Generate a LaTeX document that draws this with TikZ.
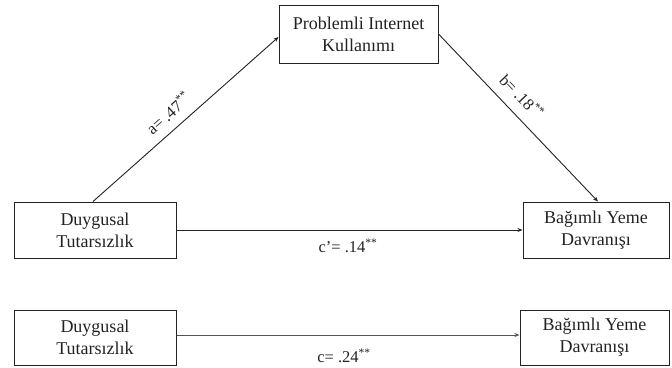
\documentclass[tikz,border=0pt]{standalone}
\usepackage{fontspec}
\setmainfont{Liberation Serif}
\usetikzlibrary{arrows.meta}
\definecolor{ink}{HTML}{222222}
\definecolor{lightink}{HTML}{555555}
\tikzset{
  varbox/.style={draw=ink, line width=1pt, align=center, inner sep=0pt,
    font=\fontsize{18}{22}\selectfont, text=ink},
  path/.style={draw=ink, line width=0.9pt, -{Stealth[length=5pt,width=4pt]}},
  pathlight/.style={draw=lightink, line width=0.7pt, -{Stealth[length=5pt,width=4pt]}},
  coef/.style={font=\fontsize{16.5}{19}\selectfont, text=ink, inner sep=0pt}
}
\begin{document}
\begin{tikzpicture}[x=1pt,y=-1pt]
\useasboundingbox (0,0) rectangle (672,367);
\node[varbox, minimum width=159pt, minimum height=58pt] (tb) at (358.5,34) {Problemli Internet\\Kullanımı};
\node[varbox, minimum width=162pt, minimum height=56pt] (lm) at (95,230) {Duygusal\\Tutarsızlık};
\node[varbox, minimum width=146pt, minimum height=56pt] (rm) at (596,230) {Bağımlı Yeme\\Davranışı};
\node[varbox, minimum width=162pt, minimum height=55pt] (lb) at (95,337.5) {Duygusal\\Tutarsızlık};
\node[varbox, minimum width=149pt, minimum height=55pt] (rb) at (594.5,337.5) {Bağımlı Yeme\\Davranışı};

\draw[path] ([xshift=-2pt]lm.north) -- ([yshift=-3pt]tb.west);
\draw[path] (tb.east) -- ([xshift=2pt]rm.north);
\draw[path] (lm.east) -- (rm.west);
\draw[pathlight] ([yshift=2.5pt]lb.east) -- ([yshift=2.5pt]rb.west);

\node[coef, rotate=41.6] (la) at (168,113) {a= .47\textsuperscript{**}};
\node[coef, rotate=-46.4] (lbb) at (522,96) {b= .18\textsuperscript{**}};
\node[coef] (lc1) at (348,246) {c’= .14\textsuperscript{**}};
\node[coef] (lc2) at (344,356) {c= .24\textsuperscript{**}};
\end{tikzpicture}
\end{document}
